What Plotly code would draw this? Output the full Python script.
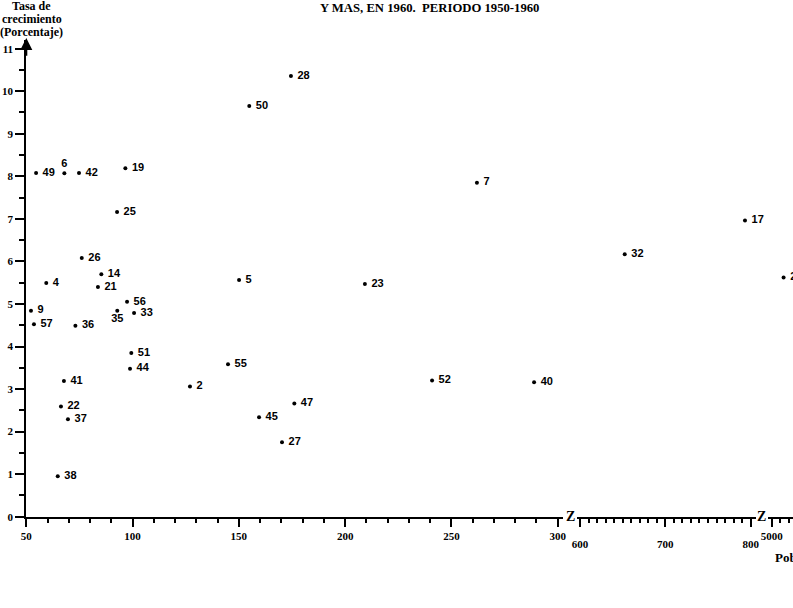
import plotly.graph_objects as go

# ---- data: segment 1 (50-300) ----
labels_a = ["49", "6", "42", "19", "25", "26", "14", "4", "21", "5", "56", "9", "35", "33",
            "57", "36", "51", "55", "44", "41", "2", "22", "37", "45", "27", "47", "38",
            "50", "28", "23", "7", "52", "40"]
pop_a = [54.6, 67.9, 74.8, 96.6, 92.7, 76.1, 85.3, 59.4, 83.7, 150.1, 97.4, 52.2, 92.8, 100.7,
         53.6, 73.1, 99.4, 144.9, 98.8, 67.7, 127.0, 66.3, 69.6, 159.5, 170.3, 176.1, 64.8,
         154.9, 174.5, 209.3, 262.0, 240.9, 288.9]
rate_a = [8.08, 8.07, 8.08, 8.19, 7.16, 6.08, 5.70, 5.49, 5.40, 5.56, 5.05, 4.84, 4.84, 4.79,
          4.52, 4.49, 3.85, 3.58, 3.48, 3.19, 3.06, 2.59, 2.29, 2.34, 1.75, 2.66, 0.95,
          9.65, 10.36, 5.47, 7.85, 3.20, 3.16]
# ---- segment 2 (600-800) ----
labels_b = ["32", "17"]
pop_b = [652.4, 793.3]
rate_b = [6.17, 6.96]
# ---- segment 3 (5000+) ----
labels_c = ["24"]
pop_c = [5014]
rate_c = [5.62]

y_ticks = list(range(0, 12))
x1_ticks = [50, 100, 150, 200, 250, 300]
x2_ticks = [600, 700, 800]
x3_ticks = [5000]

W, H = 793, 608
SERIF = "Liberation Serif"
SANS = "Liberation Sans"


def pos(lbl):
    if lbl == "6":
        return "top center"
    if lbl == "35":
        return "bottom center"
    return "middle right"


def txt(lbl):
    return lbl if lbl in ("6", "35") else " " + lbl


def add(labels, xs, ys, xa, clip):
    fig.add_trace(go.Scatter(
        x=xs, y=ys, xaxis=xa, yaxis="y", mode="markers+text",
        marker=dict(color="black", size=4),
        text=[txt(l) for l in labels],
        textposition=[pos(l) for l in labels],
        textfont=dict(family=SANS, size=11, color="black", weight="bold"),
        cliponaxis=clip,
        showlegend=False, hoverinfo="skip"))


fig = go.Figure()
add(labels_a, pop_a, rate_a, "x", False)
add(labels_b, pop_b, rate_b, "x2", False)
add(labels_c, pop_c, rate_c, "x3", True)

y0_frac = (H - 516.7) / H
ytop = 11.2
ytop_frac = (H - (516.7 - ytop * 42.55)) / H

tickfont = dict(family=SERIF, size=11, color="black", weight="bold")

common_x = dict(showline=True, linecolor="black", linewidth=2, showgrid=False, zeroline=False,
                ticks="outside", ticklen=8, tickwidth=1.5, tickcolor="black",
                tickfont=tickfont, anchor="y", automargin=False, fixedrange=True)

fig.update_layout(
    width=W, height=H,
    margin=dict(l=0, r=0, t=0, b=0),
    paper_bgcolor="white", plot_bgcolor="white",
    xaxis=dict(domain=[26.3 / W, 563 / W], range=[50, 302.5], tickvals=x1_ticks,
               minor=dict(dtick=10, tick0=50, ticks="outside", ticklen=4, tickwidth=1.5, tickcolor="black"),
               **common_x),
    xaxis2=dict(domain=[577 / W, 756 / W], range=[596.5, 806.2], tickvals=x2_ticks,
                minor=dict(dtick=10, tick0=600, ticks="outside", ticklen=4, tickwidth=1.5, tickcolor="black"),
                ticklabelstandoff=8, **common_x),
    xaxis3=dict(domain=[768 / W, 1.0], range=[4995.6, 5025.1], tickvals=x3_ticks,
                minor=dict(dtick=10, tick0=5000, ticks="outside", ticklen=4, tickwidth=1.5, tickcolor="black"),
                **common_x),
    yaxis=dict(domain=[y0_frac, ytop_frac], range=[0, ytop], tickvals=y_ticks,
               showline=True, linecolor="black", linewidth=2, showgrid=False, zeroline=False,
               ticks="outside", ticklen=9, tickwidth=1.5, tickcolor="black",
               minor=dict(dtick=1, tick0=0.5, ticks="outside", ticklen=5, tickwidth=1.5, tickcolor="black"),
               tickfont=tickfont, anchor="x", automargin=False, fixedrange=True),
)

# arrowhead at top of y axis
fig.add_annotation(x=50, y=ytop + 0.05, xref="x", yref="y", ax=50, ay=10.8, axref="x", ayref="y",
                   showarrow=True, arrowhead=2, arrowsize=1.2, arrowwidth=2, arrowcolor="black", text="")

# axis break markers
for xp in (570, 761):
    fig.add_annotation(x=xp / W, y=0, xref="paper", yref="y", text="Z", showarrow=False,
                       xanchor="center", yanchor="middle",
                       font=dict(family=SERIF, size=14, color="black", weight="bold"))

# y-axis title (top-left)
for t, py in (("Tasa de", 6), ("crecimiento", 19), ("(Porcentaje)", 32)):
    fig.add_annotation(x=31.5 / W, y=1 - py / H, xref="paper", yref="paper", text=t, showarrow=False,
                       xanchor="center", yanchor="middle",
                       font=dict(family=SERIF, size=12, color="black", weight="bold"))

# title fragment
fig.add_annotation(x=429 / W, y=1 - 8 / H, xref="paper", yref="paper",
                   text="Y MAS, EN 1960.  PERIODO 1950-1960", showarrow=False,
                   xanchor="center", yanchor="middle",
                   font=dict(family=SERIF, size=12.7, color="black", weight="bold"))

# x-axis title (cut by page edge, as in the reference)
fig.add_annotation(x=773 / W, y=1 - 557 / H, xref="paper", yref="paper", text="Población",
                   showarrow=False, xanchor="left", yanchor="middle",
                   font=dict(family=SERIF, size=13, color="black", weight="bold"))

fig.write_html("out.html")
